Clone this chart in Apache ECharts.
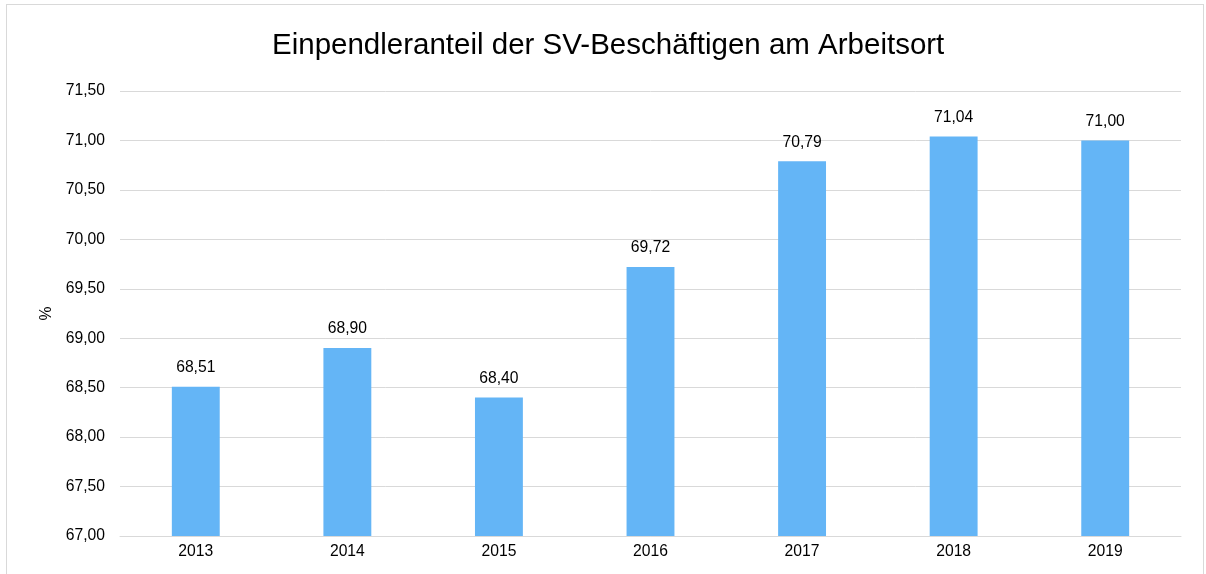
<!DOCTYPE html>
<html>
<head>
<meta charset="utf-8">
<script src="https://cdn.jsdelivr.net/npm/echarts@6/dist/echarts.min.js"></script>
<style>
  html, body { margin: 0; padding: 0; background: #ffffff; }
  #chart { position: absolute; left: 0; top: 0; width: 1206px; height: 574px; }
  #frame { position: absolute; left: 6px; top: 4px; width: 1198px; height: 600px;
           border: 1px solid #d9d9d9; box-sizing: border-box; pointer-events: none; }
</style>
</head>
<body>
<div id="chart"></div>
<div id="frame"></div>
<script>
// Anteil der Einpendler an den SV-Beschäftigten am Arbeitsort, in Prozent
const years = ['2013', '2014', '2015', '2016', '2017', '2018', '2019'];
const shares = [68.51, 68.90, 68.40, 69.72, 70.79, 71.04, 71.00];

const fmt = v => v.toFixed(2).replace('.', ',');
const font = 'Liberation Sans, Arial, sans-serif';

const chart = echarts.init(document.getElementById('chart'));
chart.setOption({
  animation: false,
  backgroundColor: '#ffffff',
  title: {
    text: 'Einpendleranteil der SV-Beschäftigen am Arbeitsort',
    left: 267,
    top: 26,
    textStyle: { fontFamily: font, fontSize: 29.5, fontWeight: 'normal', color: '#000000' }
  },
  grid: { left: 120, right: 25, top: 91, bottom: 38 },
  xAxis: {
    type: 'category',
    data: years,
    axisLine: { lineStyle: { color: '#d9d9d9', width: 1 } },
    axisTick: { show: false },
    axisLabel: { color: '#000000', fontFamily: font, fontSize: 15.7, margin: 8 }
  },
  yAxis: {
    type: 'value',
    min: 67,
    max: 71.5,
    interval: 0.5,
    name: '%',
    nameLocation: 'middle',
    nameGap: 61,
    nameRotate: 90,
    nameTextStyle: { color: '#000000', fontFamily: font, fontSize: 15.7 },
    axisLine: { show: false },
    axisTick: { show: false },
    splitLine: { lineStyle: { color: '#d9d9d9', width: 1 } },
    axisLabel: { color: '#000000', fontFamily: font, fontSize: 15.7, margin: 15, formatter: fmt }
  },
  series: [{
    type: 'bar',
    data: shares,
    barWidth: '31.6%',
    itemStyle: { color: '#64b5f6' },
    label: {
      show: true,
      position: 'top',
      distance: 11,
      color: '#000000',
      fontFamily: font,
      fontSize: 15.7,
      formatter: p => fmt(p.value)
    }
  }]
});
</script>
</body>
</html>
